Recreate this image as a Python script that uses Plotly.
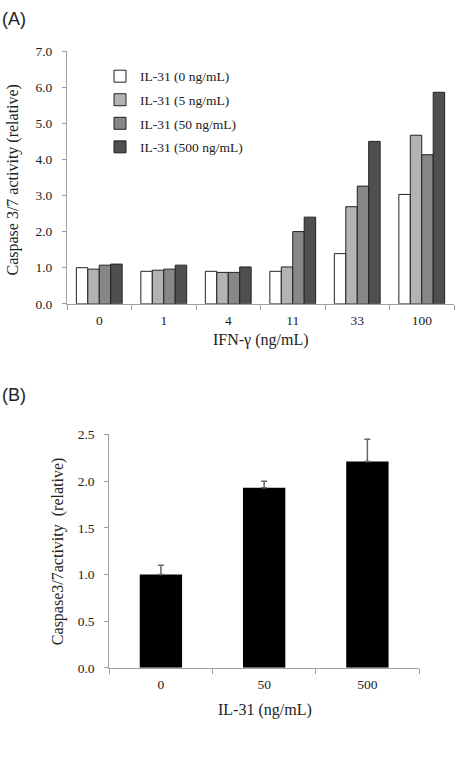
import plotly.graph_objects as go

# Panel A data
ifn_cats = ["0", "1", "4", "11", "33", "100"]
il31_0 = [1.00, 0.90, 0.90, 0.90, 1.39, 3.03]
il31_5 = [0.96, 0.93, 0.87, 1.02, 2.69, 4.67]
il31_50 = [1.07, 0.96, 0.87, 2.00, 3.26, 4.13]
il31_500 = [1.10, 1.07, 1.02, 2.40, 4.50, 5.86]
series_names = ["IL-31 (0 ng/mL)", "IL-31 (5 ng/mL)", "IL-31 (50 ng/mL)", "IL-31 (500 ng/mL)"]
series_colors = ["#ffffff", "#b3b3b3", "#878787", "#4f4f4f"]

# Panel B data
il31_cats = ["0", "50", "500"]
b_values = [1.00, 1.93, 2.21]
b_errors = [0.10, 0.07, 0.24]

SERIF = "Liberation Serif, Times New Roman, serif"
SANS = "Liberation Sans, Arial, sans-serif"
AXCOL = "#a0a0a0"
TXT = "#222222"

fig = go.Figure()

for name, vals, col in zip(series_names, [il31_0, il31_5, il31_50, il31_500], series_colors):
    fig.add_trace(go.Bar(
        x=ifn_cats, y=vals, name=name, legendgroup=name,
        marker=dict(color=col, line=dict(color="#222222", width=1)),
        xaxis="x", yaxis="y",
    ))

fig.add_trace(go.Bar(
    x=il31_cats, y=b_values, showlegend=False, width=0.41,
    marker=dict(color="#000000", line=dict(width=0)),
    error_y=dict(type="data", array=b_errors, arrayminus=[0, 0, 0], symmetric=False,
                 color="#666666", thickness=1.5, width=3),
    xaxis="x2", yaxis="y2",
))

W, H = 459, 767
def px(x):
    return x / W
def py(y):
    return 1 - y / H

tickfont = dict(family=SERIF, size=13.5, color=TXT)
common_x = dict(type="category", showline=True, linecolor=AXCOL, linewidth=1,
                ticks="outside", tickson="boundaries", ticklen=5, tickcolor=AXCOL,
                showgrid=False, zeroline=False, tickfont=tickfont, ticklabelstandoff=4)
common_y = dict(showline=True, linecolor=AXCOL, linewidth=1, ticks="outside",
                ticklen=4, tickcolor=AXCOL, showgrid=False, zeroline=False,
                tickfont=tickfont, tickformat=".1f", ticklabelstandoff=7)

fig.update_layout(
    width=W, height=H,
    margin=dict(l=0, r=0, t=0, b=0),
    paper_bgcolor="white", plot_bgcolor="white",
    bargap=0.29, bargroupgap=0, barmode="group",
    xaxis=dict(domain=[px(67), px(454)], anchor="y", **common_x),
    yaxis=dict(domain=[py(302.7), py(45)], anchor="x", range=[0, 7], dtick=1, **common_y),
    xaxis2=dict(domain=[px(109.3), px(419)], anchor="y2", **common_x),
    yaxis2=dict(domain=[py(674), py(436)], anchor="x2", range=[0, 2.5], dtick=0.5, **common_y),
    legend=dict(x=px(100), y=py(55), xanchor="left", yanchor="top",
                font=dict(family=SERIF, size=13.5, color=TXT),
                traceorder="grouped", tracegroupgap=3,
                bgcolor="rgba(0,0,0,0)", itemwidth=30),
    showlegend=True,
)

anns = [
    dict(text="(A)", x=0, y=py(0), xanchor="left", yanchor="top",
         font=dict(family=SANS, size=18, color=TXT)),
    dict(text="(B)", x=0, y=py(384), xanchor="left", yanchor="top",
         font=dict(family=SANS, size=18, color=TXT)),
    dict(text="Caspase 3/7 activity (relative)", x=px(13), y=py(177), textangle=-90,
         xanchor="center", yanchor="middle", font=dict(family=SERIF, size=16, color=TXT)),
    dict(text="IFN-γ (ng/mL)", x=px(261), y=py(340), xanchor="center", yanchor="middle",
         font=dict(family=SERIF, size=16, color=TXT)),
    dict(text="Caspase3/7activity  (relative)", x=px(58), y=py(556), textangle=-90,
         xanchor="center", yanchor="middle", font=dict(family=SERIF, size=16, color=TXT)),
    dict(text="IL-31 (ng/mL)", x=px(265), y=py(717), xanchor="center", yanchor="middle",
         font=dict(family=SERIF, size=16, color=TXT)),
]
for a in anns:
    a.update(xref="paper", yref="paper", showarrow=False)
fig.update_layout(annotations=anns)

fig.write_html("out.html")
